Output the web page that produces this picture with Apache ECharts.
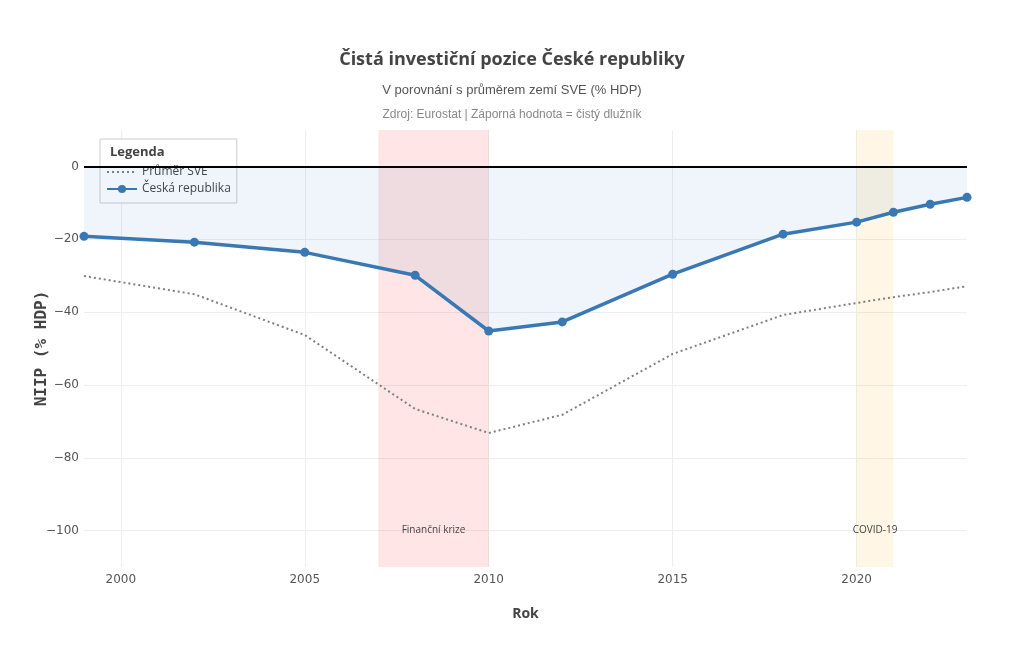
<!DOCTYPE html>
<html>
<head>
<meta charset="utf-8">
<script src="https://cdn.jsdelivr.net/npm/echarts@6/dist/echarts.min.js"></script>
<style>
  html, body { margin: 0; padding: 0; background: #fff; }
  #chart { width: 1024px; height: 652px; }
</style>
</head>
<body>
<div id="chart"></div>
<script>
// roky a hodnoty NIIP (% HDP)
var years = [1999, 2002, 2005, 2008, 2010, 2012, 2015, 2018, 2020, 2021, 2022, 2023];
var czValues = [-19.2, -20.8, -23.6, -29.9, -45.2, -42.7, -29.6, -18.6, -15.3, -12.6, -10.4, -8.5];
var sveValues = [-30.1, -35.1, -46.3, -66.6, -73.2, -68.2, -51.5, -40.8, -37.5, -35.9, -34.5, -32.9];
var xTicks = [2000, 2005, 2010, 2015, 2020];
var yTicks = [-100, -80, -60, -40, -20, 0];
var crisis = { name: 'Finanční krize', from: 2007, to: 2010 };
var covid = { name: 'COVID-19', from: 2020, to: 2021 };

var font = '"Open Sans", "DejaVu Sans", sans-serif';
var tickFont = '"DejaVu Sans", Verdana, sans-serif';

function pairs(xs, ys) {
  return xs.map(function (x, i) { return [x, ys[i]]; });
}

var chart = echarts.init(document.getElementById('chart'));

var option = {
  backgroundColor: '#fff',
  animation: false,
  title: [
    {
      text: 'Čistá investiční pozice České republiky',
      left: 'center', top: 46,
      textStyle: { fontFamily: font, fontSize: 18, fontWeight: 'bold', color: '#444' }
    },
    {
      text: 'V porovnání s průměrem zemí SVE (% HDP)',
      left: 'center', top: 79,
      textStyle: { fontFamily: 'Arial, "Liberation Sans", sans-serif', fontSize: 13, fontWeight: 'normal', color: '#555' }
    },
    {
      text: 'Zdroj: Eurostat | Záporná hodnota = čistý dlužník',
      left: 'center', top: 104,
      textStyle: { fontFamily: 'Arial, "Liberation Sans", sans-serif', fontSize: 12, fontWeight: 'normal', color: '#888' }
    },
    {
      text: 'Legenda',
      left: 105, top: 141,
      textStyle: { fontFamily: font, fontSize: 13, fontWeight: 'bold', color: '#444' }
    }
  ],
  legend: {
    orient: 'vertical',
    left: 100, top: 139,
    padding: [27, 6, 8, 6],
    itemGap: 5,
    itemWidth: 30,
    itemHeight: 10,
    backgroundColor: '#fff',
    borderColor: '#ccc',
    borderWidth: 1,
    textStyle: { fontFamily: font, fontSize: 12, color: '#444' },
    data: [
      { name: 'Průměr SVE', itemStyle: { opacity: 0 } },
      { name: 'Česká republika' }
    ]
  },
  grid: { left: 84, right: 57, top: 130, bottom: 85, containLabel: false },
  xAxis: {
    type: 'value',
    min: 1999, max: 2023,
    name: 'Rok',
    nameLocation: 'middle',
    nameGap: 40,
    nameTextStyle: { fontFamily: font, fontSize: 14, fontWeight: 'bold', color: '#444' },
    axisLine: { show: false },
    axisTick: { show: false, customValues: xTicks },
    axisLabel: {
      customValues: xTicks,
      fontFamily: tickFont, fontSize: 12, color: '#555', margin: 7,
      formatter: function (v) { return String(v); }
    },
    splitLine: { show: true, lineStyle: { color: '#eee', width: 1 } }
  },
  yAxis: {
    type: 'value',
    min: -110, max: 10,
    name: 'NIIP (% HDP)',
    nameLocation: 'middle',
    nameGap: 34,
    nameMoveOverlap: false,
    nameTextStyle: { fontFamily: '"DejaVu Sans Mono", monospace', fontSize: 16, fontWeight: 'bold', color: '#444' },
    axisLine: { show: false },
    axisTick: { show: false, customValues: yTicks },
    axisLabel: {
      customValues: yTicks,
      fontFamily: tickFont, fontSize: 12, color: '#555', margin: 5,
      formatter: function (v) { return String(v).replace('-', '\u2212'); }
    },
    splitLine: { show: true, lineStyle: { color: '#eee', width: 1 } }
  },
  series: [
    {
      name: 'Průměr SVE',
      type: 'line',
      data: pairs(years, sveValues),
      showSymbol: false,
      symbol: 'none',
      itemStyle: { color: '#7f7f7f' },
      lineStyle: { color: '#7f7f7f', width: 2, type: [2, 3] },
      z: 3,
      markArea: {
        silent: true,
        data: [
          [{ xAxis: crisis.from, itemStyle: { color: 'rgba(255,0,0,0.1)' } }, { xAxis: crisis.to }],
          [{ xAxis: covid.from, itemStyle: { color: 'rgba(255,165,0,0.1)' } }, { xAxis: covid.to }]
        ]
      },
      markPoint: {
        silent: true,
        symbol: 'circle',
        symbolSize: 0,
        label: {
          show: true, position: 'inside',
          fontFamily: font, fontSize: 10, color: '#444',
          formatter: '{b}'
        },
        data: [
          { name: crisis.name, coord: [(crisis.from + crisis.to) / 2, -100] },
          { name: covid.name, coord: [(covid.from + covid.to) / 2, -100] }
        ]
      }
    },
    {
      name: 'Česká republika',
      type: 'line',
      data: pairs(years, czValues),
      symbol: 'circle',
      symbolSize: 9,
      itemStyle: { color: '#3a78b4' },
      lineStyle: { color: '#3a78b4', width: 3.5 },
      areaStyle: { color: 'rgba(31,119,180,0.1)', origin: 0 },
      z: 4,
      markLine: {
        silent: true,
        symbol: 'none',
        label: { show: false },
        lineStyle: { color: '#000', width: 2, type: 'solid' },
        data: [{ yAxis: 0 }]
      }
    }
  ]
};

chart.setOption(option);
</script>
</body>
</html>
